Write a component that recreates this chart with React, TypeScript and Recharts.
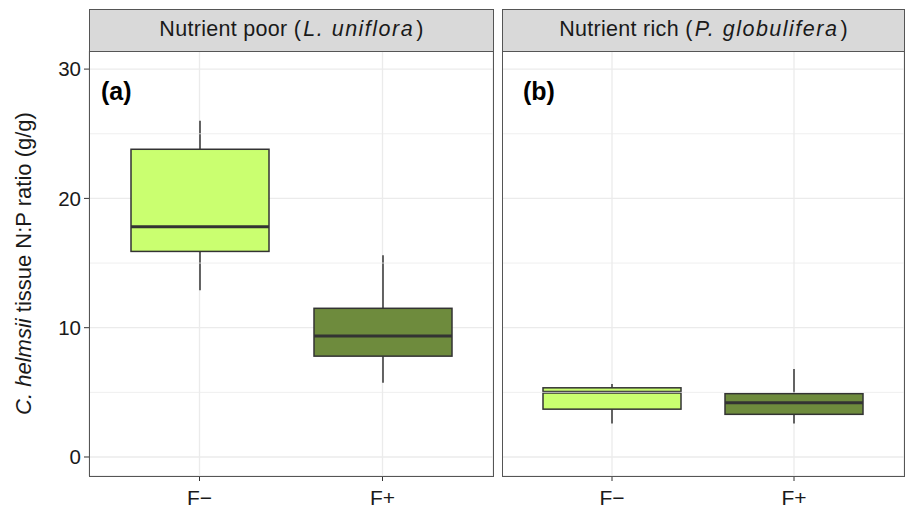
import { ComposedChart, Bar, XAxis, YAxis, CartesianGrid, ReferenceLine, Label } from "recharts";

const GROUPS = ["F\u2212", "F+"];
const FILLS = ["#CAFF70", "#6E8B3D"];

// nutrient poor panel (L. uniflora)
const POOR_MIN = [12.9, 5.75];
const POOR_Q1 = [15.9, 7.8];
const POOR_MED = [17.8, 9.35];
const POOR_Q3 = [23.8, 11.5];
const POOR_MAX = [26.0, 15.6];

// nutrient rich panel (P. globulifera)
const RICH_MIN = [2.6, 2.6];
const RICH_Q1 = [3.7, 3.3];
const RICH_MED = [5.0, 4.2];
const RICH_Q3 = [5.35, 4.9];
const RICH_MAX = [5.65, 6.8];

const Y_TICKS = [0, 10, 20, 30];
const MINOR_TICKS = [5, 15, 25];
const Y_DOMAIN = [-1.47, 31.4];

const FONT = "'Liberation Sans', Arial, sans-serif";
const BORDER = "#555";
const GRID = "#EBEBEB";
const INK = "#1A1A1A";

function buildRows(min: number[], q1: number[], med: number[], q3: number[], max: number[]) {
  return GROUPS.map((g, i) => ({ group: g, min: min[i], q1: q1[i], med: med[i], q3: q3[i], max: max[i], idx: i }));
}

const poorRows = buildRows(POOR_MIN, POOR_Q1, POOR_MED, POOR_Q3, POOR_MAX);
const richRows = buildRows(RICH_MIN, RICH_Q1, RICH_MED, RICH_Q3, RICH_MAX);

// bar spans [min, max]; the box parts are placed on the same linear scale
function BoxShape(props: any) {
  const { x, y, width, height, payload } = props;
  const top = Math.min(y, y + height);
  const h = Math.abs(height);
  const k = h / (payload.max - payload.min);
  const py = (v: number) => top + (payload.max - v) * k;
  const cx = x + width / 2;
  return (
    <g>
      <line x1={cx} x2={cx} y1={py(payload.max)} y2={py(payload.q3)} stroke="#333" strokeWidth={1.5} />
      <line x1={cx} x2={cx} y1={py(payload.q1)} y2={py(payload.min)} stroke="#333" strokeWidth={1.5} />
      <rect x={x} y={py(payload.q3)} width={width} height={py(payload.q1) - py(payload.q3)}
        fill={FILLS[payload.idx]} stroke="#333" strokeWidth={1.5} />
      <line x1={x} x2={x + width} y1={py(payload.med)} y2={py(payload.med)} stroke="#333" strokeWidth={3} />
    </g>
  );
}

function YTitle(props: any) {
  const vb = props.viewBox || { y: 0, height: 425 };
  const cy = vb.y + vb.height / 2;
  return (
    <text x={31} y={cy} transform={`rotate(-90, 31, ${cy})`} textAnchor="middle" fontSize={22} fill={INK} fontFamily={FONT}>
      <tspan fontStyle="italic">C. helmsii</tspan>
      <tspan> tissue N:P ratio (g/g)</tspan>
    </text>
  );
}

function Panel({ rows, showY }: { rows: any[]; showY: boolean }) {
  const w = showY ? 494 : 403;
  return (
    <ComposedChart width={w} height={458} data={rows} margin={{ top: 0, right: 1, bottom: 0, left: 0 }}>
      <CartesianGrid stroke={GRID} strokeWidth={1.3} />
      {MINOR_TICKS.map((t) => (
        <ReferenceLine key={t} y={t} stroke={GRID} strokeWidth={0.8} />
      ))}
      <XAxis dataKey="group" padding={{ left: 19, right: 19 }} height={33} axisLine={false}
        tickSize={5} tickMargin={9} tickLine={{ stroke: "#333" }}
        tick={{ fontSize: 21, fill: INK, fontFamily: FONT }} />
      <YAxis type="number" domain={Y_DOMAIN} ticks={Y_TICKS} allowDataOverflow hide={!showY}
        width={89} axisLine={false} tickSize={5} tickMargin={3} tickLine={{ stroke: "#333" }}
        tick={{ fontSize: 20.5, fill: INK, fontFamily: FONT }}>
        <Label content={YTitle} />
      </YAxis>
      <Bar dataKey={(d: any) => [d.min, d.max]} barSize={138} shape={BoxShape} isAnimationActive={false} />
    </ComposedChart>
  );
}

function Strip({ left, width, children }: { left: number; width: number; children: any }) {
  return (
    <div style={{
      position: "absolute", left, top: 9, width, height: 43, boxSizing: "border-box",
      background: "#D9D9D9", border: `1px solid ${BORDER}`, display: "flex", alignItems: "center",
      justifyContent: "center", fontFamily: FONT, fontSize: 21.5, color: INK, paddingBottom: 2,
    }}>
      {children}
    </div>
  );
}

export default function App() {
  return (
    <div style={{ position: "absolute", left: 0, top: 0, width: 905, height: 509, background: "#fff", fontFamily: FONT }}>
      <div style={{ position: "absolute", left: 0, top: 51 }}>
        <Panel rows={poorRows} showY={true} />
      </div>
      <div style={{ position: "absolute", left: 502, top: 51 }}>
        <Panel rows={richRows} showY={false} />
      </div>
      <div style={{ position: "absolute", left: 89, top: 51, width: 405, height: 426, boxSizing: "border-box", border: `1px solid ${BORDER}`, pointerEvents: "none" }} />
      <div style={{ position: "absolute", left: 502, top: 51, width: 403, height: 426, boxSizing: "border-box", border: `1px solid ${BORDER}`, pointerEvents: "none" }} />
      <Strip left={89} width={405}>
        <span style={{ letterSpacing: 0.3 }}>Nutrient poor (<i style={{ letterSpacing: 1.5, padding: "0 2px" }}>L. uniflora</i>)</span>
      </Strip>
      <Strip left={502} width={403}>
        <span style={{ letterSpacing: 0.3 }}>Nutrient rich (<i style={{ letterSpacing: 1.5, padding: "0 2px" }}>P. globulifera</i>)</span>
      </Strip>
      <div style={{ position: "absolute", left: 101, top: 79, fontSize: 25, fontWeight: "bold", lineHeight: 1, color: "#000" }}>(a)</div>
      <div style={{ position: "absolute", left: 523, top: 79, fontSize: 25, fontWeight: "bold", lineHeight: 1, color: "#000" }}>(b)</div>
    </div>
  );
}
